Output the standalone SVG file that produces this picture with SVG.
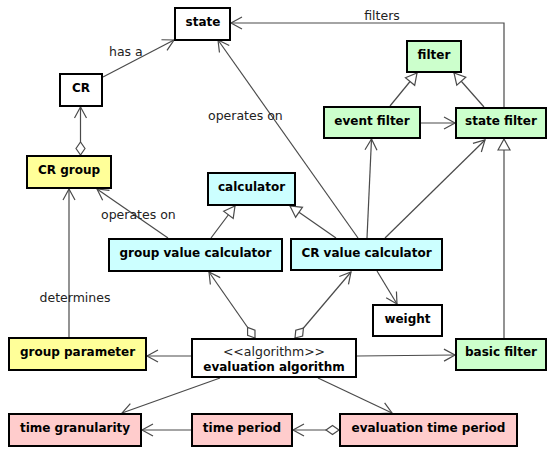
<svg xmlns="http://www.w3.org/2000/svg" width="548" height="450" viewBox="0 0 548 450">
<style>
.b{stroke:#000;stroke-width:2}
.w{fill:#fff}.y{fill:#ffff99}.c{fill:#ccffff}.g{fill:#ccffcc}.p{fill:#ffcccc}
.t{font-family:"DejaVu Sans",sans-serif;font-size:12px;font-weight:bold;text-anchor:middle;fill:#000}
.n{font-family:"DejaVu Sans",sans-serif;font-size:12.5px;fill:#222}
.m{text-anchor:middle}
#connectors path{fill:none;stroke:#4a4a4a;stroke-width:1.2}
.a{marker-end:url(#arr)}
.gen{marker-end:url(#tri)}
.d{marker-start:url(#dia)}
</style>
<defs>
<marker id="arr" markerUnits="userSpaceOnUse" markerWidth="13" markerHeight="14" refX="11" refY="6.5" orient="auto" overflow="visible">
<path d="M0,0.5 L11,6.5 L0,12.5" fill="none" stroke="#4a4a4a" stroke-width="1.2"/>
</marker>
<marker id="tri" markerUnits="userSpaceOnUse" markerWidth="13" markerHeight="13" refX="11" refY="6" orient="auto" overflow="visible">
<path d="M0,0 L11,6 L0,12 Z" fill="#fff" stroke="#4a4a4a" stroke-width="1.2"/>
</marker>
<marker id="dia" markerUnits="userSpaceOnUse" markerWidth="14" markerHeight="10" refX="0" refY="4.5" orient="auto" overflow="visible">
<path d="M0,4.5 L6.5,0 L13,4.5 L6.5,9 Z" fill="#fff" stroke="#4a4a4a" stroke-width="1.2"/>
</marker>
</defs>
<rect width="548" height="450" fill="#fff"/>
<g id="connectors">
<path class="a" d="M103,77 L174,40"/>
<path class="a d" d="M80.5,155 L80.5,107"/>
<path class="a" d="M69,337 L69,189"/>
<path class="a" d="M168,238 L97,189"/>
<path class="gen" d="M211,238 L235,206"/>
<path class="gen" d="M336,238 L290,206"/>
<path class="a" d="M358,238 L218,40"/>
<path class="a" d="M367,238 L371.5,139"/>
<path class="a" d="M385,238 L485,140"/>
<path class="a" d="M377,271 L397,304"/>
<path class="gen" d="M390,106 L417,73"/>
<path class="gen" d="M484,107 L454,73"/>
<path class="a" d="M421,123 L455,123"/>
<path class="a" d="M504,107 L504,23 L231,23"/>
<path class="gen" d="M504,338 L504,139"/>
<path class="a" d="M191,356 L147,356"/>
<path class="a d" d="M255,338 L209,272"/>
<path class="a d" d="M295,338 L351,272"/>
<path class="a" d="M357,356 L455,355"/>
<path class="a" d="M220,378 L122,413"/>
<path class="a" d="M318,378 L392,413"/>
<path class="a" d="M191,430 L142,430"/>
<path class="a d" d="M339,430 L293,430"/>
<text class="n" x="109" y="56">has a</text>
<text class="n" x="101" y="219">operates on</text>
<text class="n" x="208" y="120">operates on</text>
<text class="n m" x="382" y="20">filters</text>
<text class="n m" x="75" y="302">determines</text>
</g>
<g id="state"><rect class="b w" x="175" y="8" width="55" height="32"/><text class="t" x="203" y="26">state</text></g>
<g id="cr"><rect class="b w" x="60" y="74" width="42" height="32"/><text class="t" x="81" y="92">CR</text></g>
<g id="crgroup"><rect class="b y" x="27" y="156" width="84" height="32"/><text class="t" x="69" y="174">CR group</text></g>
<g id="filter"><rect class="b g" x="407" y="41" width="54" height="31"/><text class="t" x="434" y="59">filter</text></g>
<g id="eventfilter"><rect class="b g" x="324" y="107" width="96" height="31"/><text class="t" x="372" y="125">event filter</text></g>
<g id="statefilter"><rect class="b g" x="456" y="108" width="90" height="30"/><text class="t" x="501" y="125">state filter</text></g>
<g id="calculator"><rect class="b c" x="208" y="173" width="87" height="32"/><text class="t" x="251.5" y="191">calculator</text></g>
<g id="groupvaluecalc"><rect class="b c" x="109" y="239" width="173" height="32"/><text class="t" x="195.5" y="257">group value calculator</text></g>
<g id="crvaluecalc"><rect class="b c" x="291" y="239" width="151" height="31"/><text class="t" x="366.5" y="257">CR value calculator</text></g>
<g id="weight"><rect class="b w" x="373" y="305" width="69" height="31"/><text class="t" x="407.5" y="323">weight</text></g>
<g id="groupparameter"><rect class="b y" x="9" y="338" width="137" height="32"/><text class="t" x="77.5" y="356">group parameter</text></g>
<g id="evalalg"><rect class="b w" x="192" y="339" width="164" height="38"/><text class="n m" x="274" y="356">&lt;&lt;algorithm&gt;&gt;</text><text class="t" x="274" y="371">evaluation algorithm</text></g>
<g id="basicfilter"><rect class="b g" x="456" y="339" width="90" height="31"/><text class="t" x="501" y="356">basic filter</text></g>
<g id="timegranularity"><rect class="b p" x="9" y="414" width="132" height="32"/><text class="t" x="75" y="432">time granularity</text></g>
<g id="timeperiod"><rect class="b p" x="192" y="414" width="100" height="32"/><text class="t" x="242" y="432">time period</text></g>
<g id="evaltimeperiod"><rect class="b p" x="340" y="414" width="177" height="32"/><text class="t" x="428.5" y="432">evaluation time period</text></g>
</svg>
